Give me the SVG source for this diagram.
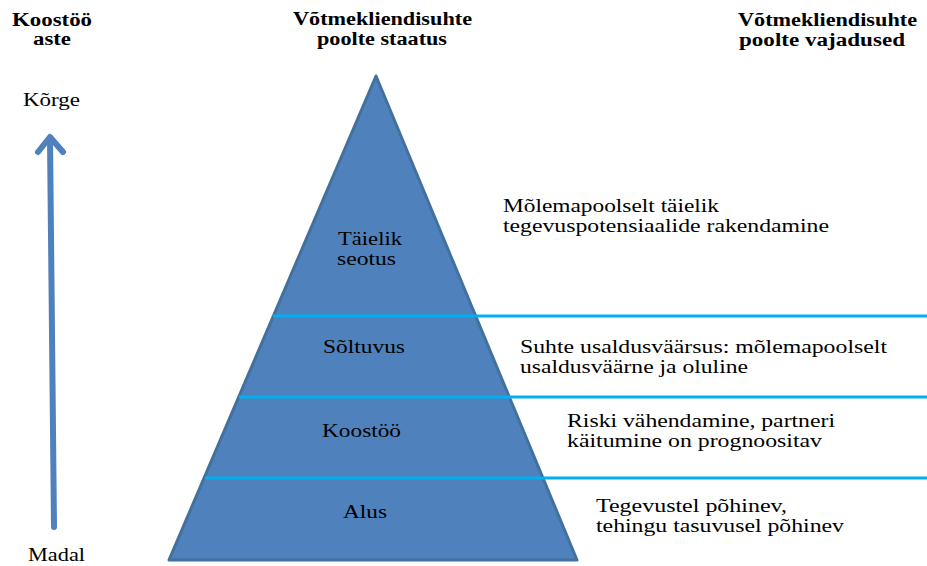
<svg xmlns="http://www.w3.org/2000/svg" width="927" height="566" viewBox="0 0 927 566" font-family="Liberation Serif, Times New Roman, DejaVu Serif, serif">
<style>
.t{font-size:18px;fill:#000}
.b{font-weight:bold}
.lvl{stroke:#00b0f0;stroke-width:3;fill:none}
.arr{stroke:#4f81bd;stroke-width:6;fill:none;stroke-linecap:round;stroke-linejoin:round}
</style>
<rect width="927" height="566" fill="#fff"/>
<g id="headers" font-family="Liberation Serif, serif">
<text class="t b" x="12" y="26" textLength="80" lengthAdjust="spacingAndGlyphs">Koostöö</text>
<text class="t b" x="33" y="45" textLength="38" lengthAdjust="spacingAndGlyphs">aste</text>
<text class="t b" x="293" y="25" textLength="179" lengthAdjust="spacingAndGlyphs">Võtmekliendisuhte</text>
<text class="t b" x="317" y="45" textLength="130" lengthAdjust="spacingAndGlyphs">poolte staatus</text>
<text class="t b" x="738" y="26" textLength="179" lengthAdjust="spacingAndGlyphs">Võtmekliendisuhte</text>
<text class="t b" x="739" y="46" textLength="166" lengthAdjust="spacingAndGlyphs">poolte vajadused</text>
</g>
<g id="axis" font-family="Liberation Serif, serif">
<path class="arr" d="M54 527 L50 138"/>
<path class="arr" d="M38 152 L50 137 L63 152"/>
<text class="t" x="23" y="106" textLength="57" lengthAdjust="spacingAndGlyphs">Kõrge</text>
<text class="t" x="28" y="561" textLength="57" lengthAdjust="spacingAndGlyphs">Madal</text>
</g>
<g id="pyramid">
<polygon points="376,76 577,560 169,560" fill="#4f81bd" stroke="#41719c" stroke-width="3" stroke-linejoin="round"/>
</g>
<g id="connectors">
<line class="lvl" x1="273" y1="316" x2="927" y2="316"/>
<line class="lvl" x1="239" y1="397" x2="927" y2="397"/>
<line class="lvl" x1="205" y1="478" x2="927" y2="478"/>
</g>
<g id="level-taielik" font-family="Liberation Serif, serif">
<text class="t" x="338" y="245" textLength="64" lengthAdjust="spacingAndGlyphs">Täielik</text>
<text class="t" x="337" y="265" textLength="59" lengthAdjust="spacingAndGlyphs">seotus</text>
<text class="t" x="503" y="212" textLength="216" lengthAdjust="spacingAndGlyphs">Mõlemapoolselt täielik</text>
<text class="t" x="503" y="232" textLength="326" lengthAdjust="spacingAndGlyphs">tegevuspotensiaalide rakendamine</text>
</g>
<g id="level-soltuvus" font-family="Liberation Serif, serif">
<text class="t" x="323" y="353" textLength="82" lengthAdjust="spacingAndGlyphs">Sõltuvus</text>
<text class="t" x="520" y="353" textLength="367" lengthAdjust="spacingAndGlyphs">Suhte usaldusväärsus: mõlemapoolselt</text>
<text class="t" x="520" y="373" textLength="228" lengthAdjust="spacingAndGlyphs">usaldusväärne ja oluline</text>
</g>
<g id="level-koostoo" font-family="Liberation Serif, serif">
<text class="t" x="322" y="437" textLength="79" lengthAdjust="spacingAndGlyphs">Koostöö</text>
<text class="t" x="567" y="427" textLength="268" lengthAdjust="spacingAndGlyphs">Riski vähendamine, partneri</text>
<text class="t" x="567" y="447" textLength="255" lengthAdjust="spacingAndGlyphs">käitumine on prognoositav</text>
</g>
<g id="level-alus" font-family="Liberation Serif, serif">
<text class="t" x="343" y="518" textLength="44" lengthAdjust="spacingAndGlyphs">Alus</text>
<text class="t" x="596" y="512" textLength="191" lengthAdjust="spacingAndGlyphs">Tegevustel põhinev,</text>
<text class="t" x="596" y="532" textLength="248" lengthAdjust="spacingAndGlyphs">tehingu tasuvusel põhinev</text>
</g>
</svg>
